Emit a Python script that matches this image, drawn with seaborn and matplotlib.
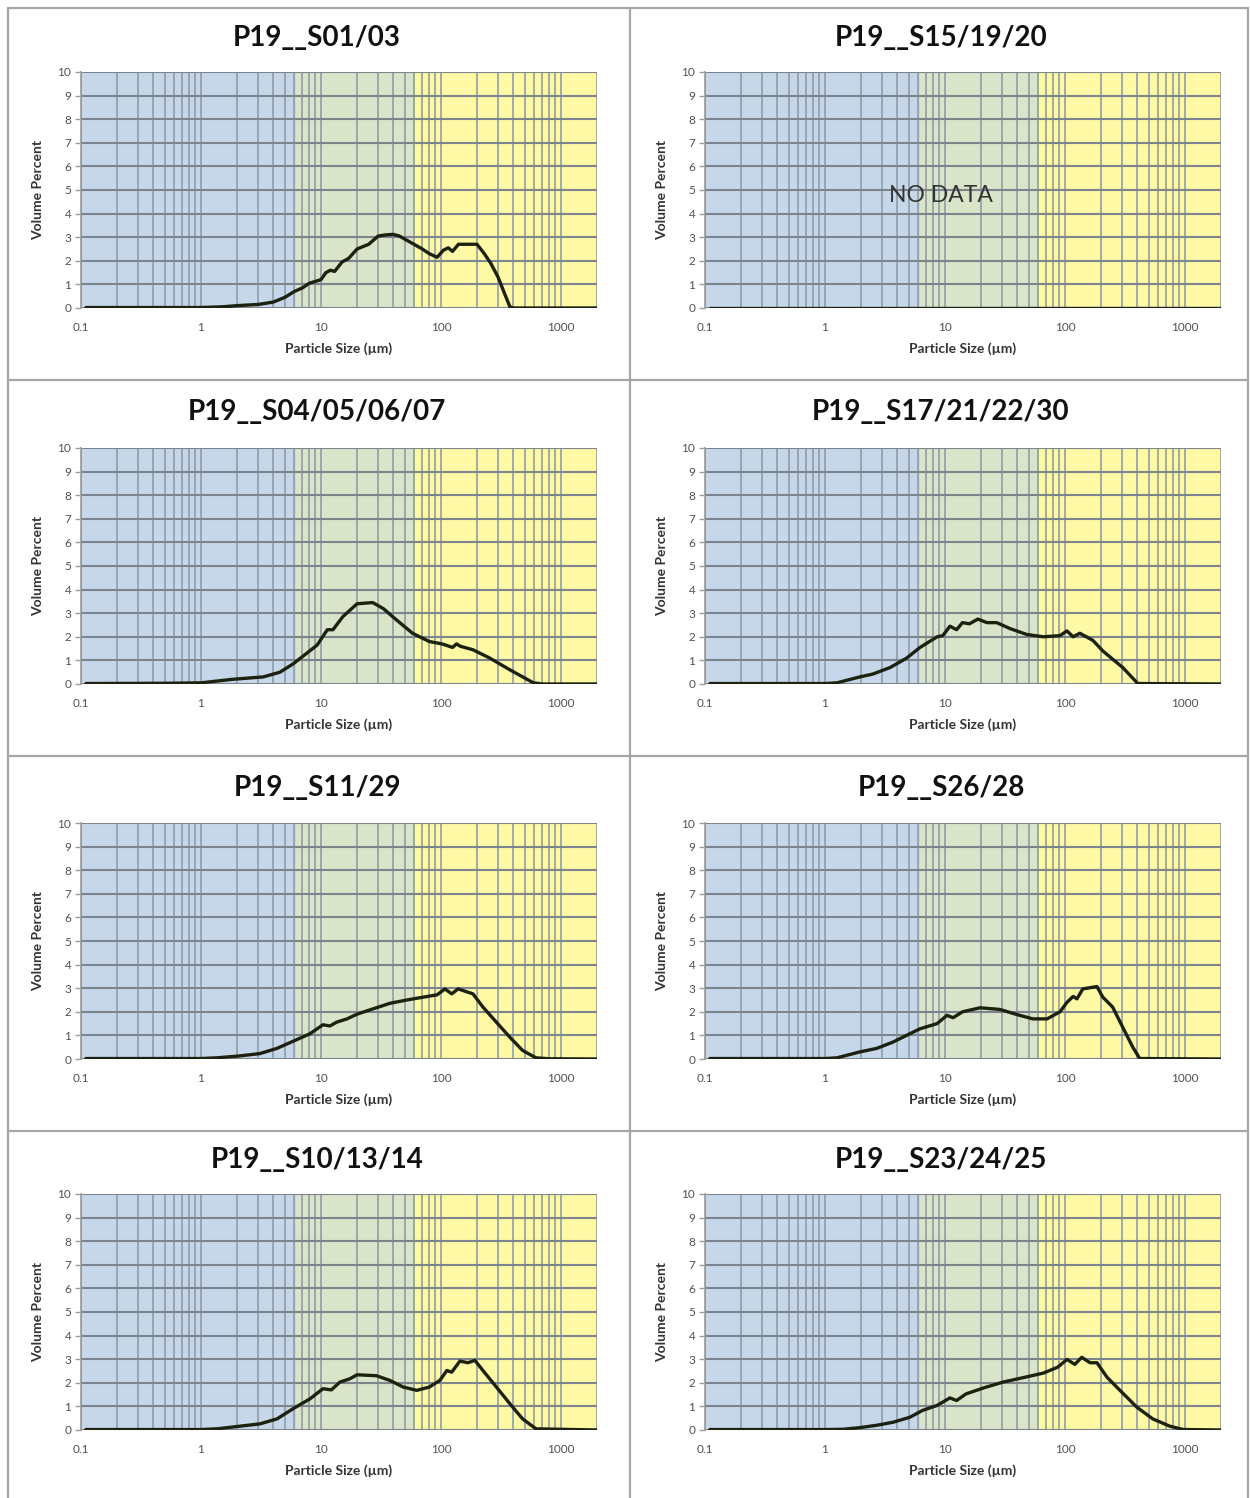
import matplotlib
matplotlib.use("Agg")
import matplotlib.pyplot as plt
import matplotlib.ticker as mticker
from matplotlib.lines import Line2D
import numpy as np
import pandas as pd
import seaborn as sns

# --- data (particle size in µm, volume percent) ---
titles = ["P19__S01/03", "P19__S15/19/20", "P19__S04/05/06/07", "P19__S17/21/22/30",
          "P19__S11/29", "P19__S26/28", "P19__S10/13/14", "P19__S23/24/25"]

size_s01 = [0.11, 0.5, 1.0, 1.5, 2, 3, 4, 5, 6, 7, 8, 10, 11, 12, 13, 15, 17, 20, 25, 30, 35, 40, 45,
            55, 70, 80, 93, 105, 115, 125, 140, 160, 200, 230, 260, 300, 340, 376, 400, 2000]
vol_s01 = [0.02, 0.02, 0.02, 0.05, 0.1, 0.15, 0.25, 0.45, 0.7, 0.85, 1.05, 1.2, 1.5, 1.6, 1.55, 1.95,
           2.1, 2.5, 2.7, 3.05, 3.1, 3.12, 3.05, 2.8, 2.5, 2.3, 2.15, 2.45, 2.55, 2.4, 2.7, 2.7, 2.7,
           2.3, 1.9, 1.3, 0.6, 0.05, 0.0, 0.0]

size_s15 = [0.11, 2000]
vol_s15 = [0.0, 0.0]

size_s04 = [0.11, 0.5, 1.0, 1.85, 3.3, 4.55, 5.85, 7.6, 9.3, 11.3, 12.6, 15.2, 20, 27, 33, 43, 58,
            80, 102, 125, 135, 145, 185, 255, 376, 590, 700, 2000]
vol_s04 = [0.02, 0.03, 0.05, 0.2, 0.3, 0.5, 0.85, 1.3, 1.65, 2.3, 2.3, 2.85, 3.4, 3.45, 3.2, 2.7,
           2.15, 1.8, 1.7, 1.55, 1.7, 1.6, 1.45, 1.1, 0.6, 0.05, 0.0, 0.0]

size_s17 = [0.11, 1.0, 1.26, 1.95, 2.5, 3.5, 4.8, 6.2, 8.6, 9.6, 11, 12.5, 14, 16, 18.8, 22.4, 27,
            34.8, 48, 66, 91, 104, 117, 133, 171, 207, 303, 405, 2000]
vol_s17 = [0.02, 0.02, 0.05, 0.3, 0.42, 0.7, 1.1, 1.55, 2.0, 2.05, 2.45, 2.3, 2.6, 2.55, 2.75, 2.6,
           2.6, 2.35, 2.1, 2.0, 2.05, 2.25, 2.0, 2.15, 1.85, 1.4, 0.7, 0.02, 0.0]

size_s11 = [0.11, 1.0, 1.36, 2.1, 3.1, 4.3, 5.85, 8.1, 10.4, 11.9, 13.5, 16.5, 20, 27, 37.6, 52, 71,
            93, 108, 123, 139, 185, 224, 290, 376, 480, 620, 800, 2000]
vol_s11 = [0.02, 0.02, 0.05, 0.13, 0.23, 0.45, 0.75, 1.07, 1.45, 1.4, 1.56, 1.7, 1.9, 2.12, 2.36,
           2.5, 2.62, 2.72, 2.97, 2.76, 2.97, 2.76, 2.2, 1.56, 0.92, 0.36, 0.05, 0.01, 0.0]

size_s26 = [0.11, 1.0, 1.26, 1.95, 2.7, 3.7, 5.1, 6.2, 8.6, 10.4, 11.7, 14, 19.6, 28.7, 40, 54, 71,
            91, 104, 117, 126, 141, 185, 207, 250, 303, 368, 420, 2000]
vol_s26 = [0.02, 0.02, 0.05, 0.3, 0.45, 0.72, 1.07, 1.28, 1.5, 1.85, 1.75, 2.0, 2.17, 2.1, 1.88,
           1.7, 1.7, 2.0, 2.4, 2.65, 2.55, 2.97, 3.07, 2.62, 2.2, 1.35, 0.5, 0.02, 0.0]

size_s10 = [0.11, 1.0, 1.36, 2.1, 3.1, 4.3, 5.85, 8.1, 10.4, 12.2, 14.4, 17.4, 20, 29, 37.6, 48.5,
            63, 80, 98, 112, 123, 144, 168, 192, 224, 290, 376, 480, 620, 2000]
vol_s10 = [0.02, 0.02, 0.05, 0.16, 0.26, 0.47, 0.9, 1.32, 1.75, 1.7, 2.03, 2.17, 2.34, 2.3, 2.1,
           1.82, 1.68, 1.82, 2.1, 2.52, 2.45, 2.92, 2.85, 2.95, 2.52, 1.82, 1.11, 0.47, 0.05, 0.0]

size_s23 = [0.11, 1.0, 1.41, 1.95, 2.7, 3.7, 5.1, 6.5, 8.6, 11, 12.5, 15, 21.5, 30.5, 45, 66, 87,
            104, 121, 138, 162, 185, 224, 289, 397, 540, 750, 970, 2000]
vol_s23 = [0.02, 0.02, 0.03, 0.1, 0.2, 0.33, 0.54, 0.83, 1.04, 1.36, 1.25, 1.53, 1.8, 2.03, 2.22,
           2.41, 2.66, 2.99, 2.78, 3.08, 2.85, 2.85, 2.24, 1.67, 0.97, 0.47, 0.16, 0.02, 0.0]

panel_sizes = [size_s01, size_s15, size_s04, size_s17, size_s11, size_s26, size_s10, size_s23]
panel_vols = [vol_s01, vol_s15, vol_s04, vol_s17, vol_s11, vol_s26, vol_s10, vol_s23]

# size class bands (µm)
band_edges = [0.1, 6.2, 61, 2000]
band_colors = ["#c6d7ea", "#dae4c8", "#fdf9a4"]
y_ticks = list(range(0, 11))
x_ticks = [0.1, 1, 10, 100, 1000]

sns.set_style("white")
plt.rcParams["font.family"] = ["Lato", "DejaVu Sans"]

W, H = 1250, 1498
fig = plt.figure(figsize=(W / 100, H / 100), dpi=100)

col_left = [81, 705]
row_top = [72, 448, 823, 1194]
title_y = [38, 412, 788, 1160]
ax_w, ax_h = 516, 236


def px_axes(left, top, w, h):
    return fig.add_axes([left / W, 1 - (top + h) / H, w / W, h / H])


for i, title in enumerate(titles):
    r, c = divmod(i, 2)
    ax = px_axes(col_left[c], row_top[r], ax_w, ax_h)
    ax.set_xscale("log")
    ax.set_xlim(0.1, 2000)
    ax.set_ylim(0, 10)
    for lo, hi, col in zip(band_edges[:-1], band_edges[1:], band_colors):
        ax.axvspan(lo, hi, color=col, lw=0, zorder=0)

    ax.set_yticks(y_ticks)
    ax.set_xticks(x_ticks)
    ax.xaxis.set_minor_locator(mticker.LogLocator(base=10, subs=np.arange(2, 10), numticks=20))
    ax.xaxis.set_major_formatter(mticker.FuncFormatter(lambda v, p: f"{v:g}"))
    ax.xaxis.set_minor_formatter(mticker.NullFormatter())
    ax.grid(True, axis="x", which="both", color="#8a96a2", lw=1.1, zorder=1)
    ax.grid(True, axis="y", which="major", color="#7c858e", lw=1.5, zorder=1)
    ax.set_axisbelow(True)

    df = pd.DataFrame({"size": panel_sizes[i], "vol": panel_vols[i]})
    sns.lineplot(data=df, x="size", y="vol", ax=ax, color="#1c2110", lw=2.4, zorder=3,
                 estimator=None, sort=False)

    for s in ["top", "right", "bottom"]:
        ax.spines[s].set_visible(False)
    ax.spines["left"].set_color("#9a9a9a")
    ax.spines["left"].set_linewidth(1.2)
    ax.tick_params(axis="y", which="major", length=4, width=1, color="#9a9a9a",
                   labelsize=8.5, labelcolor="#505050", pad=3, left=True)
    ax.tick_params(axis="x", which="both", length=0, labelsize=8.5, labelcolor="#505050", pad=10)

    ax.set_xlabel("Particle Size (µm)", fontsize=10, fontweight="bold", color="#333333", labelpad=7)
    ax.set_ylabel("Volume Percent", fontsize=10, fontweight="bold", color="#333333", labelpad=10)

    fig.text((col_left[c] + 236) / W, 1 - title_y[r] / H, title, ha="center", va="center",
             fontsize=20, fontweight="bold", color="#111111")

    if i == 1:
        ax.text(0.457, 0.475, "NO DATA", transform=ax.transAxes, ha="center", va="center",
                fontsize=16.5, color="#333333", zorder=4)

# table borders
border_col = "#a6a6a6"
for y in [8, 380, 756, 1131]:
    fig.add_artist(Line2D([8 / W, 1248 / W], [1 - y / H, 1 - y / H], color=border_col, lw=1.6))
for x in [8, 630, 1248]:
    fig.add_artist(Line2D([x / W, x / W], [1 - 8 / H, 0], color=border_col, lw=1.6))

fig.savefig("out.png", dpi=100)
